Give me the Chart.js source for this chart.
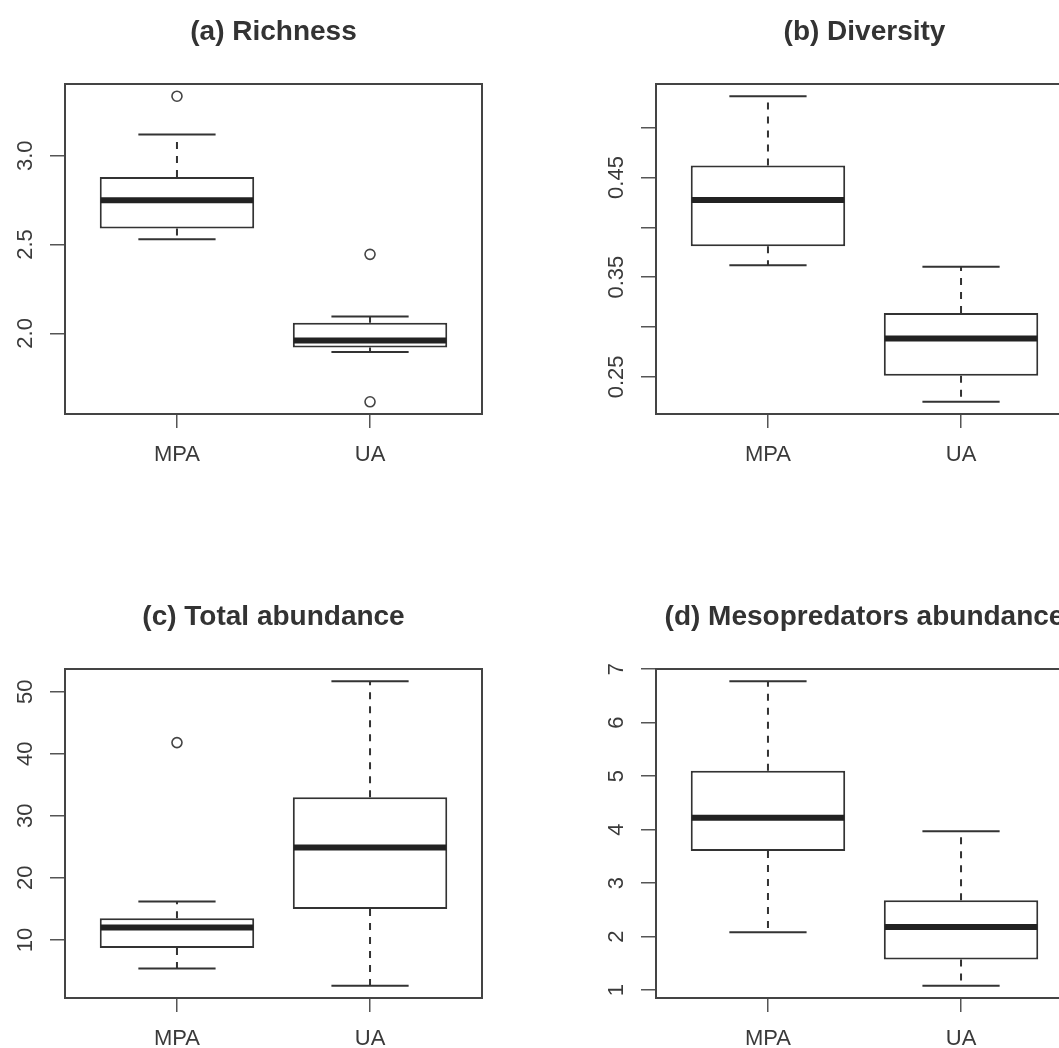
<!DOCTYPE html>
<html>
<head>
<meta charset="utf-8">
<script src="https://cdn.jsdelivr.net/npm/chart.js@4.4.1/dist/chart.umd.min.js"></script>
<style>
    body { margin: 0; background: #fff; width: 1059px; height: 1048px; overflow: hidden; position: relative; }
    .panel { position: absolute; width: 590px; }
</style>
</head>
<body>
<div class="panel" style="left:0;top:0;height:585px"><canvas id="richnessChart"></canvas></div>
<div class="panel" style="left:591px;top:0;height:585px"><canvas id="diversityChart"></canvas></div>
<div class="panel" style="left:0;top:585px;height:583px"><canvas id="abundanceChart"></canvas></div>
<div class="panel" style="left:591px;top:585px;height:583px"><canvas id="mesoChart"></canvas></div>
<script>
const groups = ['MPA', 'UA'];

// (a) Richness
const richnessLow = [2.53, 1.895];
const richnessQ1 = [2.59, 1.92];
const richnessMedian = [2.75, 1.96];
const richnessQ3 = [2.88, 2.06];
const richnessHigh = [3.12, 2.095];
const richnessOutliers = [[3.335], [2.445, 1.615]];
const richnessTicks = [2.0, 2.5, 3.0];
const richnessTickLabels = ['2.0', '2.5', '3.0'];

// (b) Diversity
const diversityLow = [0.362, 0.225];
const diversityQ1 = [0.381, 0.251];
const diversityMedian = [0.4275, 0.2885];
const diversityQ3 = [0.462, 0.314];
const diversityHigh = [0.5315, 0.3605];
const diversityOutliers = [[], []];
const diversityTicks = [0.25, 0.30, 0.35, 0.40, 0.45, 0.50];
const diversityTickLabels = ['0.25', '', '0.35', '', '0.45', ''];

// (c) Total abundance
const abundanceLow = [5.4, 2.6];
const abundanceQ1 = [8.7, 15.0];
const abundanceMedian = [12.0, 24.9];
const abundanceQ3 = [13.5, 33.0];
const abundanceHigh = [16.2, 51.7];
const abundanceOutliers = [[41.8], []];
const abundanceTicks = [10, 20, 30, 40, 50];
const abundanceTickLabels = ['10', '20', '30', '40', '50'];

// (d) Mesopredators abundance
const mesoLow = [2.08, 1.08];
const mesoQ1 = [3.6, 1.57];
const mesoMedian = [4.22, 2.18];
const mesoQ3 = [5.1, 2.68];
const mesoHigh = [6.775, 3.97];
const mesoOutliers = [[], []];
const mesoTicks = [1, 2, 3, 4, 5, 6, 7];
const mesoTickLabels = ['1', '2', '3', '4', '5', '6', '7'];

const FONT = "'Liberation Sans', Arial, Helvetica, sans-serif";
const INK = '#333';
const TICK_FONT_SIZE = 22;

// whiskers, caps, medians and the plot frame, all through the chart's scales
const boxParts = {
    id: 'boxParts',
    beforeDatasetsDraw(chart, args, opts) {
        const { ctx, scales: { x, y } } = chart;
        const capHalf = x.getPixelForValue(1.2) - x.getPixelForValue(1);
        ctx.save();
        ctx.strokeStyle = INK;
        ctx.lineWidth = 2;
        groups.forEach((g, i) => {
            const cx = x.getPixelForValue(i + 1);
            ctx.setLineDash([7, 7]);
            ctx.beginPath();
            ctx.moveTo(cx, y.getPixelForValue(opts.q3[i]));
            ctx.lineTo(cx, y.getPixelForValue(opts.high[i]));
            ctx.moveTo(cx, y.getPixelForValue(opts.q1[i]));
            ctx.lineTo(cx, y.getPixelForValue(opts.low[i]));
            ctx.stroke();
            ctx.setLineDash([]);
            ctx.beginPath();
            [opts.high[i], opts.low[i]].forEach(v => {
                const py = y.getPixelForValue(v);
                ctx.moveTo(cx - capHalf, py);
                ctx.lineTo(cx + capHalf, py);
            });
            ctx.stroke();
        });
        ctx.restore();
    },
    afterDatasetsDraw(chart, args, opts) {
        const { ctx, chartArea: a, scales: { x, y } } = chart;
        const boxHalf = x.getPixelForValue(1.4) - x.getPixelForValue(1);
        ctx.save();
        ctx.strokeStyle = '#222';
        ctx.lineWidth = 6;
        groups.forEach((g, i) => {
            const cx = x.getPixelForValue(i + 1);
            const py = y.getPixelForValue(opts.median[i]);
            ctx.beginPath();
            ctx.moveTo(cx - boxHalf + 1, py);
            ctx.lineTo(cx + boxHalf - 1, py);
            ctx.stroke();
        });
        ctx.strokeStyle = '#444';
        ctx.lineWidth = 2;
        ctx.strokeRect(a.left, a.top, a.right - a.left, a.bottom - a.top);
        ctx.restore();
    }
};

// widest tick label, so the rotated labels sit at the same distance from the axis in every panel
function widestLabel(labels) {
    const ctx = document.createElement('canvas').getContext('2d');
    ctx.font = TICK_FONT_SIZE + 'px ' + FONT;
    return Math.max(...labels.map(t => ctx.measureText(t).width));
}

function makeBoxplot(canvasId, title, low, q1, median, q3, high, outliers, ticks, tickLabels, axisHeight) {
    const all = low.concat(high, outliers.flat());
    const lo = Math.min(...all);
    const hi = Math.max(...all);
    const pad = (hi - lo) * 0.04;

    const boxes = groups.map((g, i) => ({ x: i + 1, y: [q1[i], q3[i]] }));
    const points = [];
    outliers.forEach((list, i) => list.forEach(v => points.push({ x: i + 1, y: v })));

    new Chart(document.getElementById(canvasId), {
        type: 'bar',
        data: {
            datasets: [
                {
                    data: boxes,
                    backgroundColor: '#fff',
                    borderColor: INK,
                    borderWidth: 2,
                    borderSkipped: false,
                    barPercentage: 1,
                    categoryPercentage: 0.8
                },
                {
                    type: 'scatter',
                    data: points,
                    pointStyle: 'circle',
                    pointRadius: 5,
                    pointBorderWidth: 1.6,
                    pointBorderColor: '#444',
                    pointBackgroundColor: '#fff'
                }
            ]
        },
        options: {
            responsive: true,
            maintainAspectRatio: false,
            animation: false,
            layout: { padding: { left: 0, top: 0, right: 108, bottom: 0 } },
            scales: {
                x: {
                    type: 'linear',
                    min: 0.42,
                    max: 2.58,
                    offset: false,
                    afterBuildTicks: s => { s.ticks = groups.map((g, i) => ({ value: i + 1 })); },
                    afterFit: s => { s.height = axisHeight; },
                    grid: { offset: false, drawOnChartArea: false, drawTicks: true, tickLength: 14, color: '#555', lineWidth: 1.5 },
                    border: { display: false },
                    ticks: {
                        padding: 14,
                        maxRotation: 0,
                        font: { family: FONT, size: TICK_FONT_SIZE },
                        color: '#3a3a3a',
                        callback: (v, i) => groups[i]
                    }
                },
                y: {
                    type: 'linear',
                    min: lo - pad,
                    max: hi + pad,
                    afterBuildTicks: s => { s.ticks = ticks.map(v => ({ value: v })); },
                    afterFit: s => { s.width = 65; },
                    grid: { drawOnChartArea: false, drawTicks: true, tickLength: 15, color: '#555', lineWidth: 1.5 },
                    border: { display: false },
                    ticks: {
                        minRotation: 90,
                        maxRotation: 90,
                        crossAlign: 'center',
                        padding: 24 - widestLabel(tickLabels) / 2,
                        font: { family: FONT, size: TICK_FONT_SIZE },
                        color: '#3a3a3a',
                        callback: (v, i) => tickLabels[i]
                    }
                }
            },
            plugins: {
                legend: { display: false },
                tooltip: { enabled: false },
                title: {
                    display: true,
                    text: title,
                    fullSize: false,
                    color: INK,
                    font: { family: FONT, size: 28, weight: 'bold', lineHeight: 1.2 },
                    padding: { top: 15.2, bottom: 35.2 }
                },
                boxParts: { low, q1, median, q3, high }
            }
        },
        plugins: [boxParts]
    });
}

makeBoxplot('richnessChart', '(a) Richness', richnessLow, richnessQ1, richnessMedian, richnessQ3, richnessHigh,
    richnessOutliers, richnessTicks, richnessTickLabels, 171);
makeBoxplot('diversityChart', '(b) Diversity', diversityLow, diversityQ1, diversityMedian, diversityQ3, diversityHigh,
    diversityOutliers, diversityTicks, diversityTickLabels, 171);
makeBoxplot('abundanceChart', '(c) Total abundance', abundanceLow, abundanceQ1, abundanceMedian, abundanceQ3, abundanceHigh,
    abundanceOutliers, abundanceTicks, abundanceTickLabels, 170);
makeBoxplot('mesoChart', '(d) Mesopredators abundance', mesoLow, mesoQ1, mesoMedian, mesoQ3, mesoHigh,
    mesoOutliers, mesoTicks, mesoTickLabels, 170);
</script>
</body>
</html>
